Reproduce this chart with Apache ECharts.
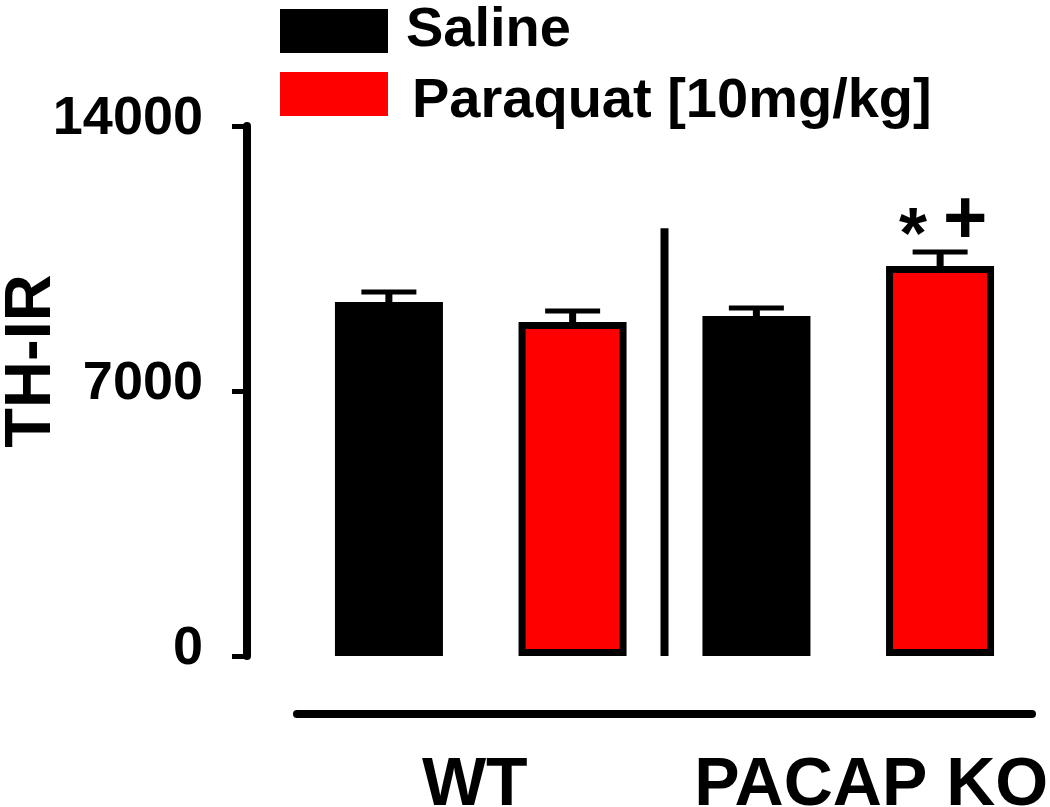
<!DOCTYPE html>
<html>
<head>
<meta charset="utf-8">
<script src="https://cdn.jsdelivr.net/npm/echarts@6/dist/echarts.min.js"></script>
<style>
html,body{margin:0;padding:0;background:#fff;}
#chart{width:1050px;height:807px;}
</style>
</head>
<body>
<div id="chart"></div>
<script>
// ---- data ----
const categories = ['WT', 'PACAP KO'];
const seriesNames = ['Saline', 'Paraquat [10mg/kg]'];
const salineMean = [9350, 8980];
const salineSem = [265, 210];
const paraquatMean = [8820, 10300];
const paraquatSem = [290, 370];
const paraquatMarks = ['', '*+'];
const salineMarks = ['', ''];
const yMin = 0, yMax = 14000, yStep = 7000;
const dividerTop = 11300;

const FONT = "'Liberation Sans', Arial, sans-serif";

const chart = echarts.init(document.getElementById('chart'), null, {renderer: 'canvas'});

function errorRender(sign, marks) {
  return function (params, api) {
    const idx = api.value(0), mean = api.value(1), sem = api.value(2);
    const catW = api.size([1, 0])[0];
    const base = api.coord([idx, mean]);
    const top = api.coord([idx, mean + sem]);
    const x = base[0] + sign * catW / 4;
    const children = [
      {type: 'rect', shape: {x: x - 3.5, y: top[1], width: 7, height: base[1] - top[1] + 3}, style: {fill: '#000'}},
      {type: 'rect', shape: {x: x - 27.5, y: top[1] - 2.5, width: 55, height: 5}, style: {fill: '#000'}}
    ];
    const m = marks[params.dataIndex];
    if (m) {
      const chars = m.split('');
      if (chars[0]) children.push({type: 'text', style: {text: chars[0], x: x - 27, y: top[1] - 14, fontSize: 72, fontWeight: 'bold', fontFamily: FONT, fill: '#000', align: 'center', verticalAlign: 'middle'}});
      if (chars[1]) children.push({type: 'text', style: {text: chars[1], x: x + 25, y: top[1] - 30, fontSize: 76, fontWeight: 'bold', fontFamily: FONT, fill: '#000', align: 'center', verticalAlign: 'middle'}});
    }
    return {type: 'group', children: children};
  };
}

const legendText = {fontSize: 56, fontWeight: 'bold', fontFamily: FONT, color: '#000', lineHeight: 44};

const option = {
  animation: false,
  backgroundColor: '#fff',
  legend: [
    {
      orient: 'vertical', left: 280, top: 3, padding: 0,
      itemWidth: 108, itemHeight: 44, icon: 'rect',
      itemStyle: {borderWidth: 0},
      textStyle: Object.assign({}, legendText, {padding: [0, 0, 0, 13]}),
      data: [seriesNames[0]]
    },
    {
      orient: 'vertical', left: 280, top: 72, padding: 0,
      itemWidth: 108, itemHeight: 59,
      icon: 'path://M0,0H108V44H0Z M0,59L0.001,59',
      itemStyle: {borderWidth: 0},
      textStyle: Object.assign({}, legendText, {padding: [0, 0, 0, 19]}),
      data: [seriesNames[1]]
    }
  ],
  grid: {left: 297, right: 18, top: 126, bottom: 151, containLabel: false, outerBoundsMode: 'none'},
  xAxis: {
    type: 'category',
    data: categories,
    offset: 58,
    axisLine: {onZero: false, lineStyle: {color: '#000', width: 8}},
    axisTick: {show: false},
    axisLabel: {
      margin: 38,
      interval: 0,
      hideOverlap: false,
      color: '#000',
      fontSize: 68, fontWeight: 'bold', fontFamily: FONT,
      formatter: function (v, i) { return i === 0 ? '{a|' + v + '}' : '{b|' + v + '}'; },
      rich: {
        a: {fontSize: 68, fontWeight: 'bold', fontFamily: FONT, color: '#000', padding: [0, 12, 0, 0]},
        b: {fontSize: 68, fontWeight: 'bold', fontFamily: FONT, color: '#000', padding: [0, 0, 0, 46]}
      }
    },
    splitLine: {show: false}
  },
  yAxis: {
    type: 'value',
    min: yMin, max: yMax, interval: yStep,
    offset: 50,
    name: 'TH-IR',
    nameLocation: 'middle',
    nameRotate: 90,
    nameGap: 182,
    nameMoveOverlap: false,
    nameTextStyle: {fontSize: 65, fontWeight: 'bold', fontFamily: FONT, color: '#000', padding: [0, 0, 0, 60]},
    axisLine: {show: true, lineStyle: {color: '#000', width: 8}},
    axisTick: {show: true, length: 15, lineStyle: {color: '#000', width: 5}},
    axisLabel: {margin: 44, color: '#000', fontSize: 54, fontWeight: 'bold', fontFamily: FONT,
      verticalAlign: 'bottom', lineHeight: 14,
      formatter: function (v) { return String(v); }},
    splitLine: {show: false}
  },
  series: [
    {
      name: seriesNames[0], type: 'bar', data: salineMean,
      barWidth: 108, barGap: '70%',
      itemStyle: {color: '#000', borderColor: '#000', borderWidth: 7},
      z: 2
    },
    {
      name: seriesNames[1], type: 'bar', data: paraquatMean,
      barWidth: 108, barGap: '70%',
      itemStyle: {color: '#ff0000', borderColor: '#000', borderWidth: 7},
      z: 2
    },
    {
      type: 'custom', name: 'salineErr', renderItem: errorRender(-1, salineMarks),
      data: salineMean.map((m, i) => [i, m, salineSem[i]]), z: 1, silent: true
    },
    {
      type: 'custom', name: 'paraquatErr', renderItem: errorRender(1, paraquatMarks),
      data: paraquatMean.map((m, i) => [i, m, paraquatSem[i]]), z: 1, silent: true
    },
    {
      type: 'custom', name: 'divider', silent: true,
      renderItem: function (params, api) {
        const catW = api.size([1, 0])[0];
        const b = api.coord([0, 0]);
        const t = api.coord([0, api.value(1)]);
        const x = b[0] + catW / 2;
        return {type: 'rect', shape: {x: x - 4, y: t[1], width: 8, height: b[1] - t[1]}, style: {fill: '#000'}};
      },
      data: [[0, dividerTop]]
    }
  ]
};
chart.setOption(option);
</script>
</body>
</html>
